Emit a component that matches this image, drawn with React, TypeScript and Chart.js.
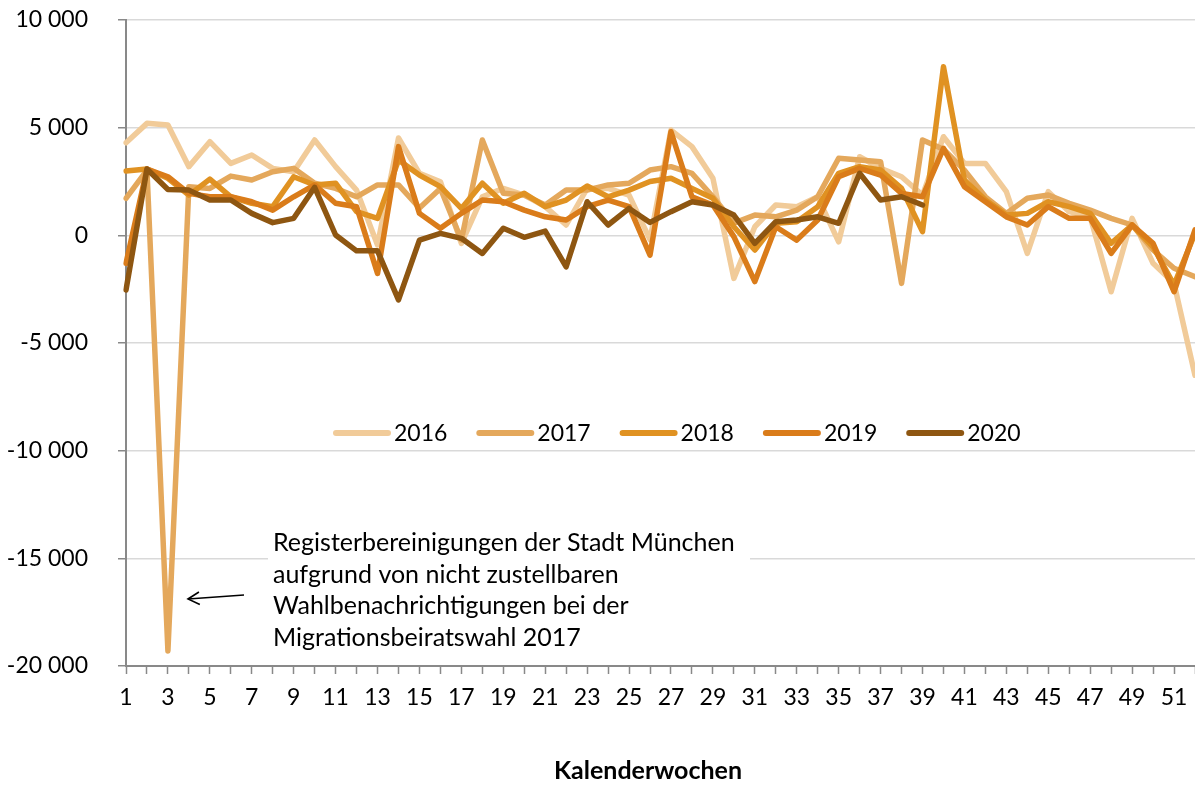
import React, { useEffect, useRef } from 'react';
import { Chart, registerables } from 'chart.js';

Chart.register(...registerables);

const weeks = ['1', '2', '3', '4', '5', '6', '7', '8', '9', '10', '11', '12', '13', '14', '15', '16', '17', '18', '19', '20', '21', '22', '23', '24', '25', '26', '27', '28', '29', '30', '31', '32', '33', '34', '35', '36', '37', '38', '39', '40', '41', '42', '43', '44', '45', '46', '47', '48', '49', '50', '51', '52'];

const seriesNames = ['2016', '2017', '2018', '2019', '2020'];
const seriesColors = ['#F1CB99', '#E4A85C', '#E09222', '#DA7C1A', '#8E5611'];

const values2016 = [4300, 5200, 5120, 3190, 4350, 3340, 3730, 3110, 2950, 4430, 3190, 2100, -450, 4520, 2880, 2490, -370, 1790, 2180, 1870, 1330, 480, 2180, 2180, 1870, -200, 4890, 4120, 2650, -2000, 400, 1410, 1330, 1790, -300, 3650, 3110, 2720, 1870, 4580, 3340, 3340, 2030, -840, 2030, 1100, 860, -2620, 790, -1300, -2230, -6500];
const values2017 = [1720, 3030, -19300, 2260, 2180, 2750, 2570, 2950, 3110, 2420, 2180, 1790, 2340, 2340, 1270, 2180, -220, 4430, 1950, 1870, 1410, 2100, 2100, 2340, 2420, 3030, 3190, 2880, 1790, 570, 940, 860, 1170, 1790, 3580, 3500, 3420, -2230, 4430, 4000, 3030, 1790, 1020, 1720, 1870, 1490, 1170, 790, 480, -680, -1530, -1920];
const values2018 = [2990, 3080, 2650, 1870, 2610, 1790, 1490, 1330, 2720, 2340, 2420, 1100, 790, 3500, 2800, 2260, 1250, 2420, 1490, 1950, 1330, 1640, 2290, 1790, 2100, 2500, 2650, 2180, 1720, 400, -680, 560, 630, 1330, 2880, 3190, 3030, 2180, 170, 7830, 2570, 1640, 940, 1020, 1560, 1330, 1020, -370, 480, -530, -2300, 100];
const values2019 = [-1300, 3080, 2720, 1950, 1790, 1790, 1560, 1170, 1790, 2340, 1490, 1330, -1770, 4120, 1020, 330, 1020, 1640, 1560, 1170, 860, 710, 1330, 1640, 1330, -920, 4810, 1790, 1410, -60, -2150, 400, -220, 710, 2720, 3110, 2800, 1950, 1790, 4040, 2260, 1560, 860, 480, 1330, 790, 790, -840, 480, -370, -2620, 250];
const values2020 = [-2540, 3080, 2130, 2100, 1640, 1640, 1020, 590, 790, 2230, 15, -720, -720, -3000, -220, 90, -140, -840, 330, -90, 200, -1460, 1560, 480, 1250, 600, 1100, 1560, 1410, 940, -370, 630, 710, 860, 560, 2880, 1640, 1790, 1410, null, null, null, null, null, null, null, null, null, null, null, null, null];

const yMin = -20000;
const yMax = 10000;
const yStep = 5000;

const axisTitle = 'Kalenderwochen';
const noteLines = [
  'Registerbereinigungen der Stadt München',
  'aufgrund von nicht zustellbaren',
  'Wahlbenachrichtigungen bei der',
  'Migrationsbeiratswahl 2017',
];

const FONT = 'Lato, "Noto Sans", sans-serif';

function formatThousands(v: number): string {
  const s = Math.abs(v).toString().replace(/\B(?=(\d{3})+(?!\d))/g, ' ');
  return (v < 0 ? '-' : '') + s;
}

export default function App() {
  const ref = useRef<HTMLCanvasElement>(null);

  useEffect(() => {
    if (!ref.current) return;
    const allValues = [values2016, values2017, values2018, values2019, values2020];

    const overlay = {
      id: 'overlay',
      beforeDatasetsDraw(chart: any) {
        const { ctx } = chart;
        ctx.save();
        ctx.fillStyle = '#ffffff';
        ctx.fillRect(268, 527, 482, 128);
        ctx.restore();
      },
      afterDatasetsDraw(chart: any) {
        const { ctx } = chart;
        ctx.save();
        ctx.font = `25px ${FONT}`;
        ctx.fillStyle = '#000';
        ctx.textAlign = 'left';
        ctx.textBaseline = 'middle';
        noteLines.forEach((t, i) => ctx.fillText(t, 273, 543 + i * 31.7));
        const tx = 188, ty = 599, sx = 244, sy = 595;
        ctx.strokeStyle = '#000';
        ctx.lineWidth = 1.6;
        ctx.beginPath();
        ctx.moveTo(sx, sy);
        ctx.lineTo(tx, ty);
        ctx.stroke();
        const ang = Math.atan2(ty - sy, tx - sx);
        const hl = 13;
        ctx.beginPath();
        ctx.moveTo(tx - hl * Math.cos(ang - 0.5), ty - hl * Math.sin(ang - 0.5));
        ctx.lineTo(tx, ty);
        ctx.lineTo(tx - hl * Math.cos(ang + 0.5), ty - hl * Math.sin(ang + 0.5));
        ctx.stroke();
        const ly = 433;
        ctx.font = `23px ${FONT}`;
        seriesNames.forEach((name, i) => {
          const x0 = 336 + i * 143.3;
          ctx.strokeStyle = seriesColors[i];
          ctx.lineWidth = 6;
          ctx.lineCap = 'round';
          ctx.beginPath();
          ctx.moveTo(x0, ly);
          ctx.lineTo(x0 + 52, ly);
          ctx.stroke();
          ctx.fillStyle = '#000';
          ctx.fillText(name, x0 + 58, ly + 1);
        });
        // axis title
        ctx.font = `bold 25px ${FONT}`;
        ctx.textAlign = 'center';
        ctx.fillText(axisTitle, 648, 771);
        ctx.restore();
      },
    };

    const chart = new Chart(ref.current, {
      type: 'line',
      data: {
        labels: weeks,
        datasets: seriesNames.map((name, i) => ({
          label: name,
          data: allValues[i],
          borderColor: seriesColors[i],
          backgroundColor: seriesColors[i],
          borderWidth: 5.5,
          pointRadius: 0,
          tension: 0,
          fill: false,
          spanGaps: false,
          borderJoinStyle: 'round' as const,
          borderCapStyle: 'round' as const,
          order: 5 - i,
        })),
      },
      options: {
        animation: false,
        responsive: true,
        maintainAspectRatio: false,
        layout: { padding: { top: 20, right: 0, bottom: 0, left: 0 } },
        plugins: {
          legend: { display: false },
          tooltip: { enabled: false },
        },
        scales: {
          x: {
            type: 'category',
            offset: false,
            afterFit: (scale: any) => {
              scale.height = 119;
              scale.paddingLeft = 0;
              scale.paddingRight = 0;
            },
            grid: {
              display: true,
              drawOnChartArea: false,
              drawTicks: true,
              tickLength: 8,
              tickColor: '#898989',
              tickWidth: 1.5,
              color: '#898989',
            },
            border: { display: true, color: '#898989', width: 2 },
            ticks: {
              autoSkip: false,
              maxRotation: 0,
              minRotation: 0,
              padding: 10,
              color: '#000',
              font: { family: FONT, size: 23 },
              callback: (_v: any, idx: number) => (idx % 2 === 0 ? weeks[idx] : ''),
            },
            title: { display: false },
          },
          y: {
            min: yMin,
            max: yMax,
            afterFit: (scale: any) => {
              scale.width = 126;
              scale.paddingTop = 0;
              scale.paddingBottom = 0;
            },
            grid: {
              color: '#d9d9d9',
              lineWidth: 1.5,
              drawTicks: true,
              tickLength: 8,
              tickColor: '#898989',
              tickWidth: 1.5,
            },
            border: { display: true, color: '#898989', width: 2 },
            ticks: {
              stepSize: yStep,
              padding: 30,
              color: '#000',
              font: { family: FONT, size: 23 },
              callback: (v: any) => formatThousands(Number(v)),
            },
          },
        },
      },
      plugins: [overlay],
    });

    return () => chart.destroy();
  }, []);

  return (
    <div style={{ position: 'fixed', left: 0, top: 0, width: 1195, height: 785, background: '#fff' }}>
      <canvas ref={ref} />
    </div>
  );
}
